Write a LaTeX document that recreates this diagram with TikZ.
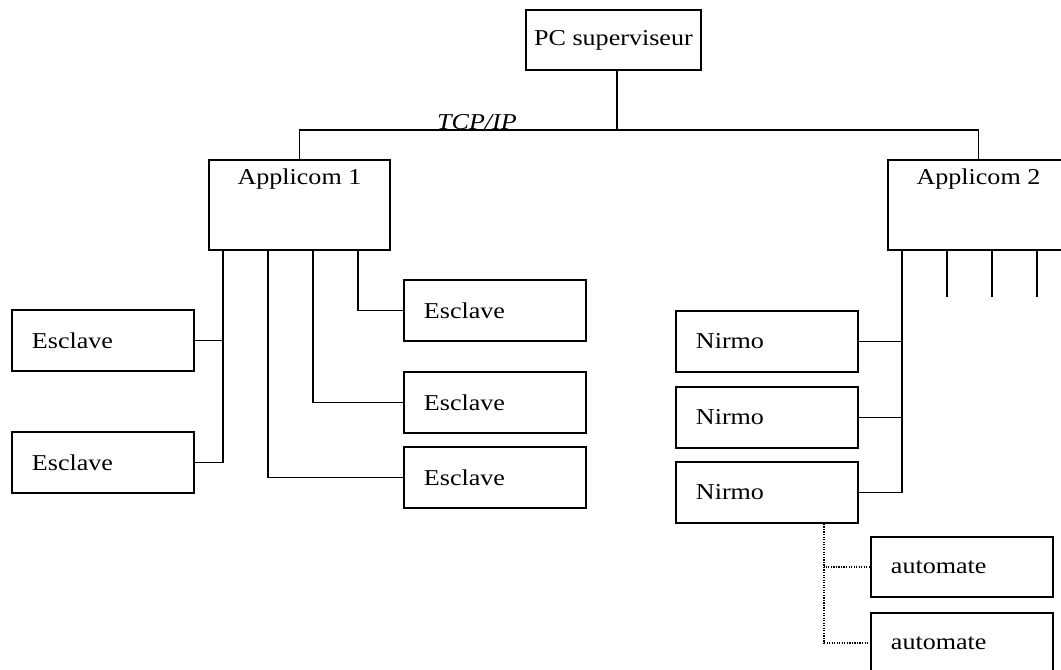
\documentclass[tikz,border=0pt]{standalone}
\usepackage{fontspec}
\setmainfont{Liberation Serif}[FakeStretch=1.15]

\begin{document}
\begin{tikzpicture}[x=0.75pt,y=-0.75pt,
        every node/.style={font=\fontsize{17}{20}\selectfont},
        blok/.style={draw, line width=1.4pt, anchor=north west, inner sep=0pt,
            minimum width=136.5pt, minimum height=45.75pt},
        uredjaj/.style={blok, text width=106.5pt, inner xsep=15pt, align=left},
        kartica/.style={blok, minimum width=135.75pt, minimum height=67.5pt},
        veza/.style={line width=1.4pt},
        tacke/.style={densely dotted, line width=0.9pt}]
        \useasboundingbox (0,0) rectangle (1061,669);

        \node[blok, minimum width=131.25pt, minimum height=45pt] (pc) at (525,9) {PC superviseur};
        \node[kartica, label={[anchor=north, inner sep=0pt, yshift=-6.75pt]north:Applicom 1}] (app1) at (208,159) {};
        \node[kartica, label={[anchor=north, inner sep=0pt, yshift=-6.75pt]north:Applicom 2}] (app2) at (887,159) {};

        % mreza
        \coordinate (bus) at (617,130);
        \draw[veza] (pc.south -| bus) -- (bus);
        \draw[veza] (app1.north) |- (bus) -| (app2.north);
        \node[anchor=base] (tcp) at (477,129) {\textit{TCP/IP}};

        % esclaves
        \node[uredjaj] (esc1) at (11,309) {Esclave};
        \node[uredjaj] (esc2) at (11,431) {Esclave};
        \node[uredjaj] (esc3) at (403,279) {Esclave};
        \node[uredjaj] (esc4) at (403,371) {Esclave};
        \node[uredjaj] (esc5) at (403,446) {Esclave};

        \coordinate (k1) at ([xshift=11.25pt]app1.south west);
        \coordinate (k2) at ([xshift=45pt]app1.south west);
        \coordinate (k3) at ([xshift=78.75pt]app1.south west);
        \coordinate (k4) at ([xshift=112.5pt]app1.south west);
        \draw[veza] (k1) |- (esc2.east);
        \draw[veza] (esc1.east) -- (esc1.east -| k1);
        \draw[veza] (k2) |- (esc5.west);
        \draw[veza] (k3) |- (esc4.west);
        \draw[veza] (k4) |- (esc3.west);

        % nirmo
        \node[uredjaj] (nirmo1) at (675,310) {Nirmo};
        \node[uredjaj] (nirmo2) at (675,386) {Nirmo};
        \node[uredjaj] (nirmo3) at (675,461) {Nirmo};

        \coordinate (m1) at ([xshift=11.25pt]app2.south west);
        \draw[veza] (m1) |- (nirmo3.east);
        \draw[veza] (nirmo1.east) -- (nirmo1.east -| m1);
        \draw[veza] (nirmo2.east) -- (nirmo2.east -| m1);
        \foreach \dx/\ime in {45/m2, 78.75/m3, 112.5/m4} {
            \coordinate (\ime) at ([xshift=\dx pt]app2.south west);
            \draw[veza] (\ime) -- ++(0,46);
        }

        % automates
        \node[uredjaj, minimum height=45pt] (aut1) at (870,536) {automate};
        \node[uredjaj, minimum height=45pt] (aut2) at (870,612) {automate};

        \coordinate (t) at ([xshift=111.75pt]nirmo3.south west);
        \draw[tacke] (t) |- (aut2.west);
        \draw[tacke] (aut1.west) -- (aut1.west -| t);
        %\draw[step=10,gray,very thin] (0,0) grid (1061,669);
    \end{tikzpicture}
\end{document}
